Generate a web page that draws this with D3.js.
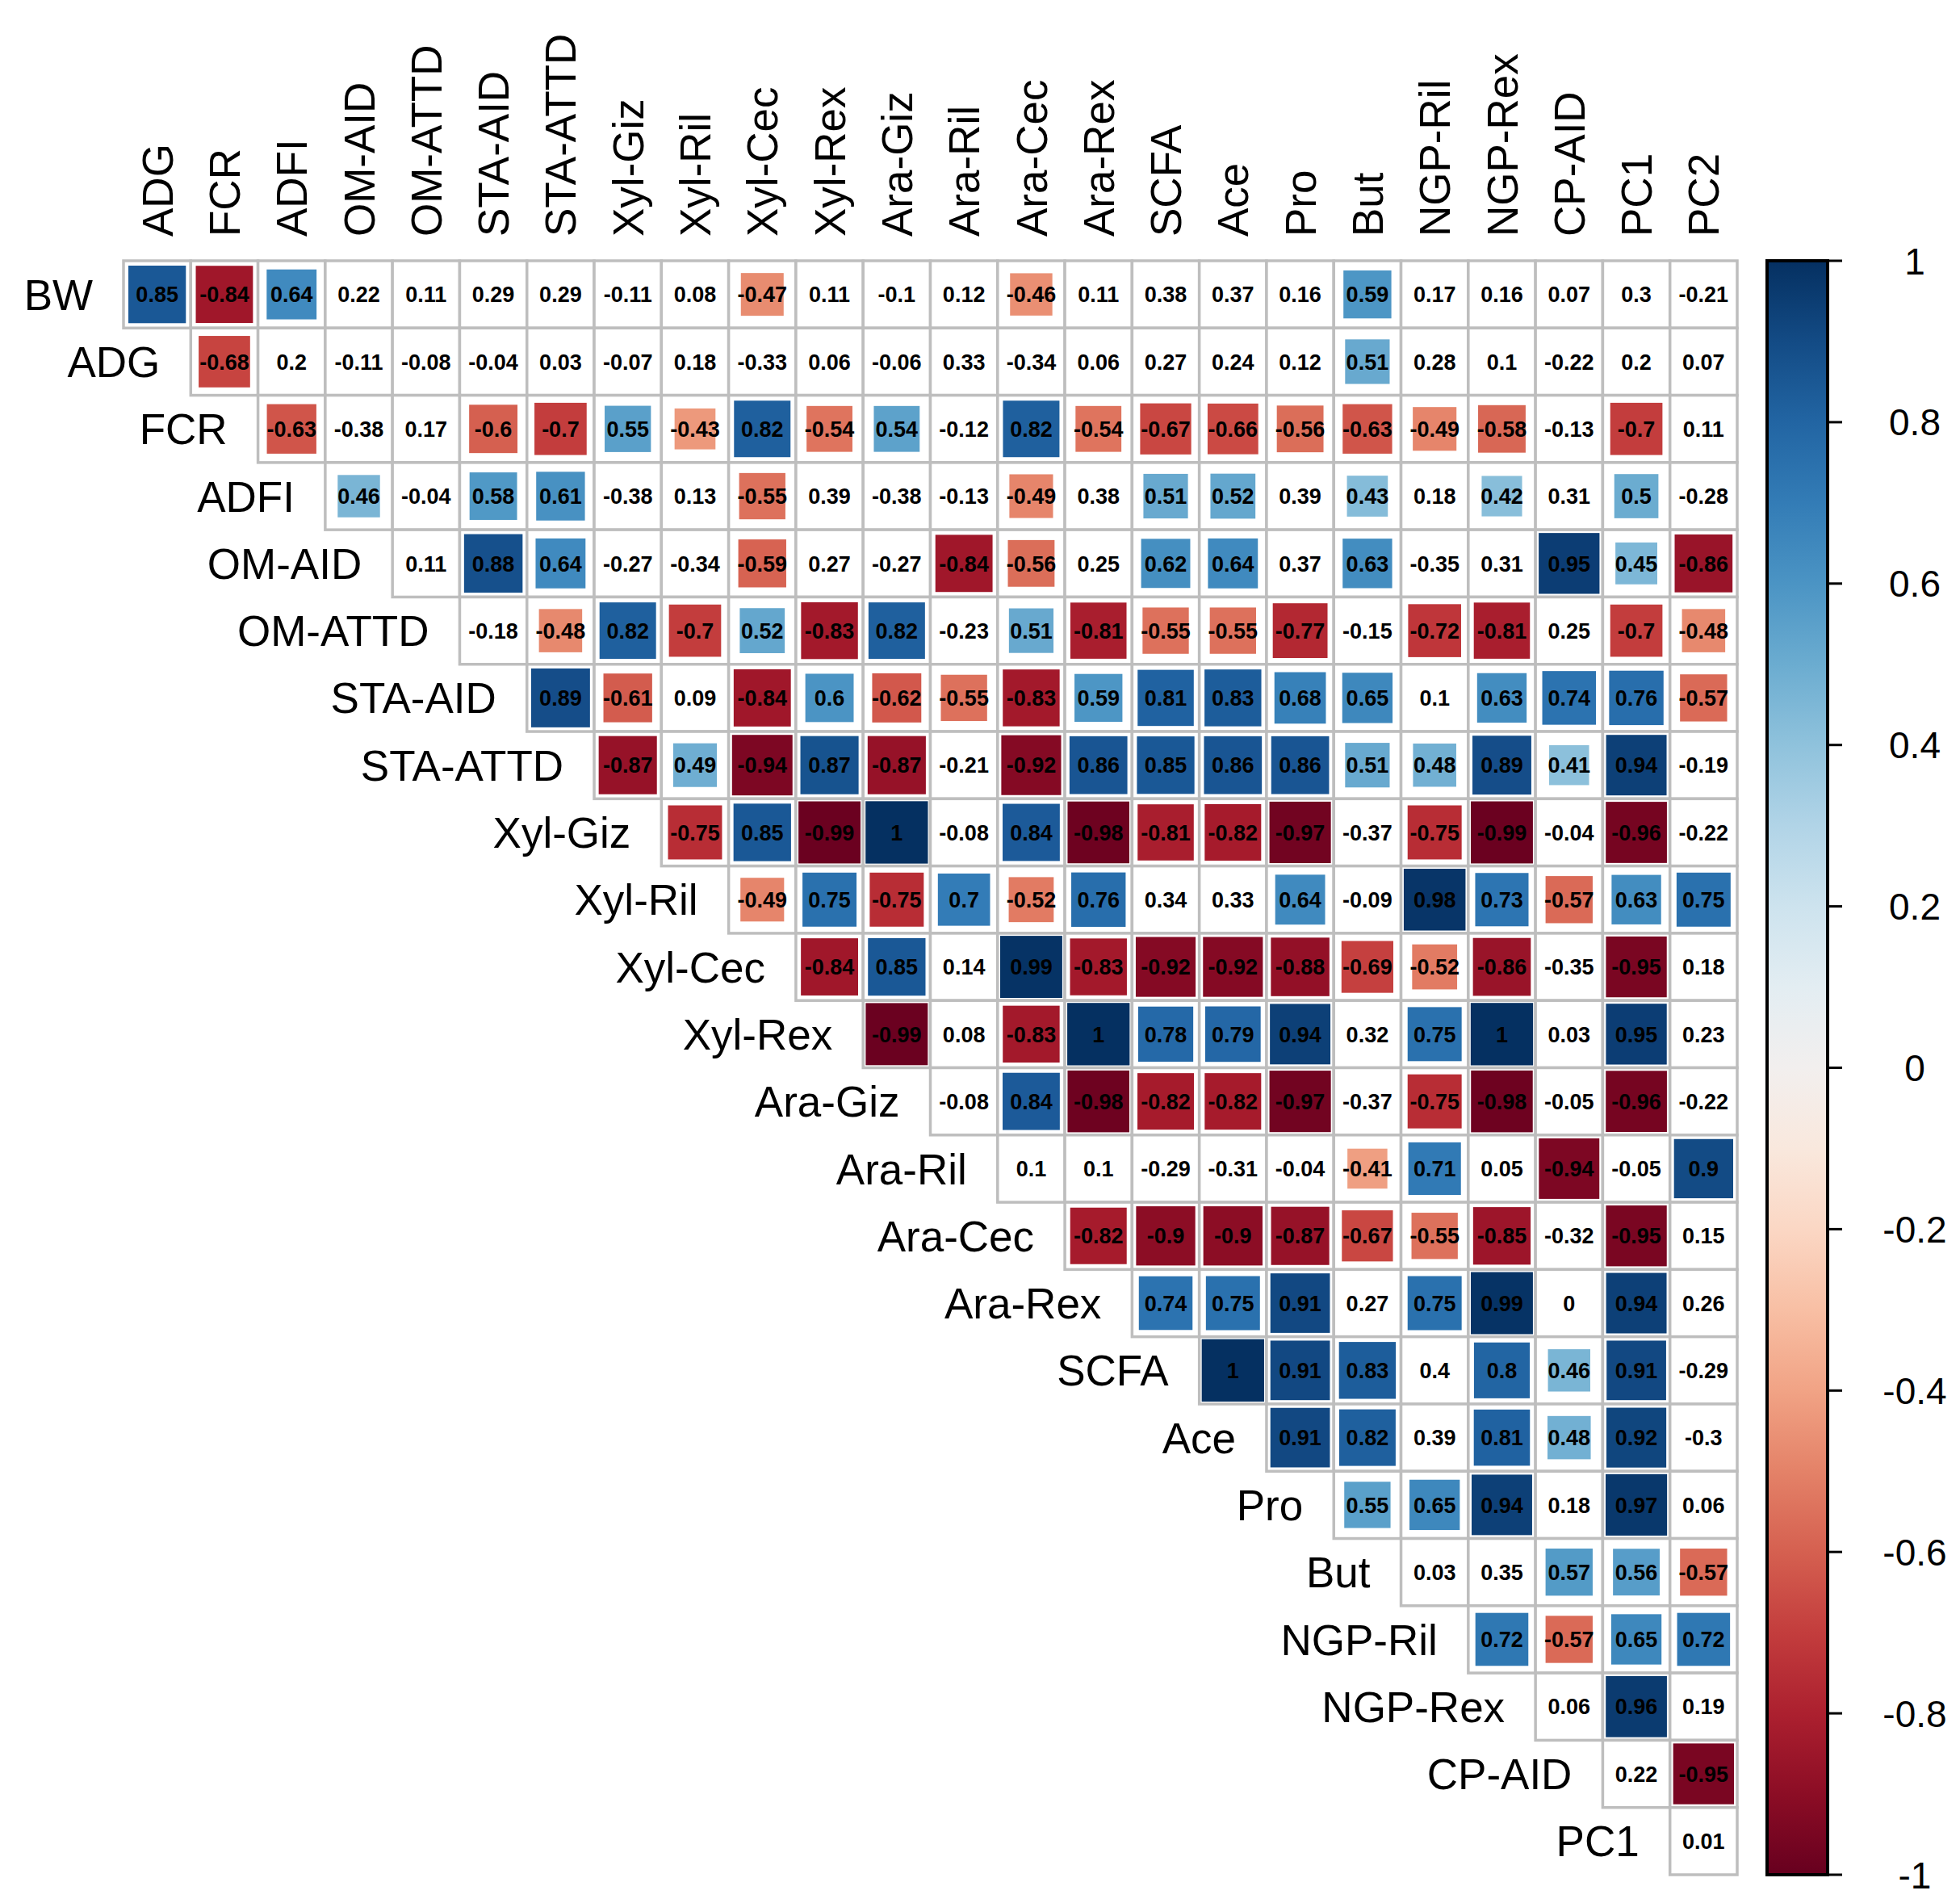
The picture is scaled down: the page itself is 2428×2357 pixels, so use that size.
<!DOCTYPE html>
<html>
<head>
<meta charset="utf-8">
<title>Correlation matrix</title>
<script src="https://cdn.jsdelivr.net/npm/d3@7"></script>
<style>
  body { margin: 0; background: #fff; }
  text { font-family: "Liberation Sans", Arial, sans-serif; }
</style>
</head>
<body>
<svg id="chart" width="2428" height="2357"></svg>
<script>
var rowNames = ["BW","ADG","FCR","ADFI","OM-AID","OM-ATTD","STA-AID","STA-ATTD","Xyl-Giz","Xyl-Ril",
  "Xyl-Cec","Xyl-Rex","Ara-Giz","Ara-Ril","Ara-Cec","Ara-Rex","SCFA","Ace","Pro","But","NGP-Ril","NGP-Rex","CP-AID","PC1"];
var colNames = ["ADG","FCR","ADFI","OM-AID","OM-ATTD","STA-AID","STA-ATTD","Xyl-Giz","Xyl-Ril","Xyl-Cec",
  "Xyl-Rex","Ara-Giz","Ara-Ril","Ara-Cec","Ara-Rex","SCFA","Ace","Pro","But","NGP-Ril","NGP-Rex","CP-AID","PC1","PC2"];

// upper triangle, row i starts at column i
var corrRows = [
  [0.85,-0.84,0.64,0.22,0.11,0.29,0.29,-0.11,0.08,-0.47,0.11,-0.1,0.12,-0.46,0.11,0.38,0.37,0.16,0.59,0.17,0.16,0.07,0.3,-0.21],
  [-0.68,0.2,-0.11,-0.08,-0.04,0.03,-0.07,0.18,-0.33,0.06,-0.06,0.33,-0.34,0.06,0.27,0.24,0.12,0.51,0.28,0.1,-0.22,0.2,0.07],
  [-0.63,-0.38,0.17,-0.6,-0.7,0.55,-0.43,0.82,-0.54,0.54,-0.12,0.82,-0.54,-0.67,-0.66,-0.56,-0.63,-0.49,-0.58,-0.13,-0.7,0.11],
  [0.46,-0.04,0.58,0.61,-0.38,0.13,-0.55,0.39,-0.38,-0.13,-0.49,0.38,0.51,0.52,0.39,0.43,0.18,0.42,0.31,0.5,-0.28],
  [0.11,0.88,0.64,-0.27,-0.34,-0.59,0.27,-0.27,-0.84,-0.56,0.25,0.62,0.64,0.37,0.63,-0.35,0.31,0.95,0.45,-0.86],
  [-0.18,-0.48,0.82,-0.7,0.52,-0.83,0.82,-0.23,0.51,-0.81,-0.55,-0.55,-0.77,-0.15,-0.72,-0.81,0.25,-0.7,-0.48],
  [0.89,-0.61,0.09,-0.84,0.6,-0.62,-0.55,-0.83,0.59,0.81,0.83,0.68,0.65,0.1,0.63,0.74,0.76,-0.57],
  [-0.87,0.49,-0.94,0.87,-0.87,-0.21,-0.92,0.86,0.85,0.86,0.86,0.51,0.48,0.89,0.41,0.94,-0.19],
  [-0.75,0.85,-0.99,1,-0.08,0.84,-0.98,-0.81,-0.82,-0.97,-0.37,-0.75,-0.99,-0.04,-0.96,-0.22],
  [-0.49,0.75,-0.75,0.7,-0.52,0.76,0.34,0.33,0.64,-0.09,0.98,0.73,-0.57,0.63,0.75],
  [-0.84,0.85,0.14,0.99,-0.83,-0.92,-0.92,-0.88,-0.69,-0.52,-0.86,-0.35,-0.95,0.18],
  [-0.99,0.08,-0.83,1,0.78,0.79,0.94,0.32,0.75,1,0.03,0.95,0.23],
  [-0.08,0.84,-0.98,-0.82,-0.82,-0.97,-0.37,-0.75,-0.98,-0.05,-0.96,-0.22],
  [0.1,0.1,-0.29,-0.31,-0.04,-0.41,0.71,0.05,-0.94,-0.05,0.9],
  [-0.82,-0.9,-0.9,-0.87,-0.67,-0.55,-0.85,-0.32,-0.95,0.15],
  [0.74,0.75,0.91,0.27,0.75,0.99,0,0.94,0.26],
  [1,0.91,0.83,0.4,0.8,0.46,0.91,-0.29],
  [0.91,0.82,0.39,0.81,0.48,0.92,-0.3],
  [0.55,0.65,0.94,0.18,0.97,0.06],
  [0.03,0.35,0.57,0.56,-0.57],
  [0.72,-0.57,0.65,0.72],
  [0.06,0.96,0.19],
  [0.22,-0.95],
  [0.01]
];
var barTicks = [-1,-0.8,-0.6,-0.4,-0.2,0,0.2,0.4,0.6,0.8,1];
var sigCut = 0.4; // cells with |r| above this are shaded

var cells = [];
corrRows.forEach(function(row, i) {
  row.forEach(function(v, k) { cells.push({ r: i, c: i + k, v: v }); });
});

var svg = d3.select("#chart");
var gLeft = 153, gTop = 323, gSize = 1999;
var x = d3.scaleBand().domain(colNames).range([gLeft, gLeft + gSize]);
var y = d3.scaleBand().domain(rowNames).range([gTop, gTop + gSize]);
var bw = x.bandwidth();
var color = d3.scaleSequential(function(t) { return d3.interpolateRdBu(t); }).domain([-1, 1]);

// white cells + grid
svg.append("g").selectAll("rect").data(cells).join("rect")
  .attr("x", function(d) { return x(colNames[d.c]); })
  .attr("y", function(d) { return y(rowNames[d.r]); })
  .attr("width", bw).attr("height", bw)
  .attr("fill", "#fff").attr("stroke", "#bebebe").attr("stroke-width", 3.5);

// shaded squares
svg.append("g").selectAll("rect").data(cells.filter(function(d) { return Math.abs(d.v) > sigCut; })).join("rect")
  .each(function(d) {
    var s = (bw - 6) * Math.sqrt(Math.abs(d.v));
    d3.select(this)
      .attr("x", x(colNames[d.c]) + bw / 2 - s / 2)
      .attr("y", y(rowNames[d.r]) + bw / 2 - s / 2)
      .attr("width", s).attr("height", s)
      .attr("fill", color(d.v));
  });

// values
svg.append("g").selectAll("text").data(cells).join("text")
  .attr("x", function(d) { return x(colNames[d.c]) + bw / 2; })
  .attr("y", function(d) { return y(rowNames[d.r]) + bw / 2; })
  .attr("text-anchor", "middle").attr("dy", "0.36em")
  .attr("font-size", 27).attr("font-weight", "bold").attr("fill", "#000")
  .text(function(d) { return String(d.v); });

// row labels
svg.append("g").selectAll("text").data(rowNames).join("text")
  .attr("x", function(d, i) { return x(colNames[i]) - 38; })
  .attr("y", function(d) { return y(d) + bw / 2; })
  .attr("dy", "0.36em").attr("text-anchor", "end")
  .attr("font-size", 53).text(function(d) { return d; });

// column labels
svg.append("g").selectAll("text").data(colNames).join("text")
  .attr("transform", function(d) { return "translate(" + (x(d) + bw / 2) + "," + (gTop - 30) + ") rotate(-90)"; })
  .attr("dy", "0.36em").attr("text-anchor", "start")
  .attr("font-size", 53).text(function(d) { return d; });

// colour bar
var barX = 2189, barW = 75;
var cy = d3.scaleLinear().domain([-1, 1]).range([gTop + gSize, gTop]);
var defs = svg.append("defs");
var grad = defs.append("linearGradient").attr("id", "cbar")
  .attr("x1", 0).attr("y1", 1).attr("x2", 0).attr("y2", 0);
d3.range(0, 1.0001, 0.05).forEach(function(t) {
  grad.append("stop").attr("offset", t).attr("stop-color", color(-1 + 2 * t));
});
svg.append("rect").attr("x", barX).attr("y", gTop).attr("width", barW).attr("height", gSize)
  .attr("fill", "url(#cbar)").attr("stroke", "#000").attr("stroke-width", 4);
var tk = svg.append("g").selectAll("g").data(barTicks).join("g");
tk.append("line")
  .attr("x1", barX + barW).attr("x2", barX + barW + 18)
  .attr("y1", function(d) { return cy(d); }).attr("y2", function(d) { return cy(d); })
  .attr("stroke", "#000").attr("stroke-width", 3);
tk.append("text")
  .attr("x", 2372).attr("y", function(d) { return cy(d); })
  .attr("dy", "0.36em").attr("text-anchor", "middle")
  .attr("font-size", 46).text(function(d) { return String(d); });
</script>
</body>
</html>
